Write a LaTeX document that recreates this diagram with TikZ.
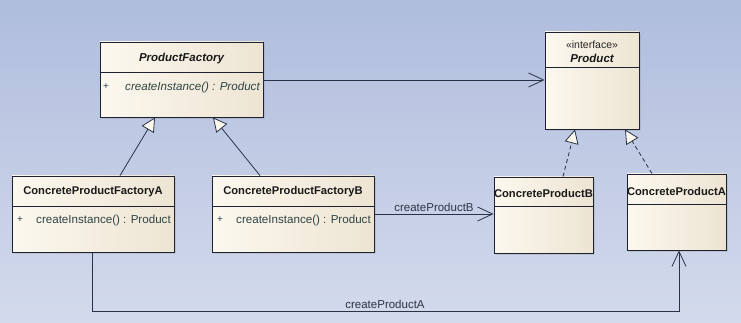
\documentclass[tikz,border=0pt]{standalone}
\usepackage{fontspec}
\setmainfont{Liberation Sans}
\usetikzlibrary{arrows.meta,shadows}

\definecolor{bgtop}{HTML}{AFBDDD}
\definecolor{bgbot}{HTML}{D3DAEC}
\definecolor{boxl}{HTML}{FCF8EE}
\definecolor{boxr}{HTML}{EDE4D3}
\definecolor{edge}{HTML}{1E2230}
\definecolor{wire}{HTML}{2A3248}
\definecolor{optext}{HTML}{2F4444}
\definecolor{lbltext}{HTML}{2E3444}

\tikzset{
  classbox/.style={draw=edge, line width=0.9pt, left color=boxl, right color=boxr,
    inner sep=0pt, drop shadow={opacity=0.22, shadow xshift=2pt, shadow yshift=-2pt}},
  divider/.style={draw=edge, line width=0.8pt},
  classname/.style={font=\fontsize{11.2}{13}\selectfont\bfseries, text=black!90, inner sep=0pt},
  abstractname/.style={font=\fontsize{11.5}{13}\selectfont\bfseries\itshape, text=black!90, inner sep=0pt},
  stereo/.style={font=\fontsize{10.5}{12}\selectfont, text=black!85, inner sep=0pt},
  member/.style={font=\fontsize{11.6}{13}\selectfont, text=optext, inner sep=0pt, anchor=west},
  vis/.style={font=\fontsize{10}{12}\selectfont, text=optext, inner sep=0pt},
  assoc/.style={draw=wire, line width=0.8pt, -{Straight Barb[length=15pt,width=14pt,line width=0.8pt]}},
  inherit/.style={draw=wire, line width=0.8pt, -{Triangle[open,length=14pt,width=14pt,fill=boxl,line width=0.8pt]}},
  realize/.style={inherit, dash pattern=on 4pt off 3pt},
  wirelabel/.style={font=\fontsize{11.5}{13}\selectfont, text=lbltext, inner sep=1pt},
}

\begin{document}
\begin{tikzpicture}[x=1pt, y=-1pt]
  % canvas
  \useasboundingbox (0,0) rectangle (741,323);
  \shade[top color=bgtop, bottom color=bgbot] (0,0) rectangle (741,323);

  % ProductFactory (abstract)
  \node[classbox, minimum width=163pt, minimum height=75pt] (pf) at (181.5,79.5) {};
  \draw[divider] (100,72) -- (263,72);
  \node[abstractname] (pfname) at (181.5,59) {ProductFactory};
  \node[vis] (pfvis) at (106,87) {+};
  \node[member, font=\fontsize{11.6}{13}\selectfont\itshape] (pfop) at (125,87) {createInstance() : Product};

  % Product (interface)
  \node[classbox, minimum width=94pt, minimum height=97pt] (prod) at (592,80.5) {};
  \draw[divider] (545,67) -- (639,67);
  \node[stereo] (prodst) at (592,45) {«interface»};
  \node[abstractname] (prodname) at (592,58.5) {Product};

  % ConcreteProductFactoryA
  \node[classbox, minimum width=162pt, minimum height=76pt] (cfa) at (93,214) {};
  \draw[divider] (12,206) -- (174,206);
  \node[classname] (cfaname) at (93,192) {ConcreteProductFactoryA};
  \node[vis] (cfavis) at (20,220) {+};
  \node[member] (cfaop) at (36,220) {createInstance() : Product};

  % ConcreteProductFactoryB
  \node[classbox, minimum width=162pt, minimum height=76pt] (cfb) at (293,214) {};
  \draw[divider] (212,206) -- (374,206);
  \node[classname] (cfbname) at (293,192) {ConcreteProductFactoryB};
  \node[vis] (cfbvis) at (220,220) {+};
  \node[member] (cfbop) at (236,220) {createInstance() : Product};

  % ConcreteProductB
  \node[classbox, minimum width=99pt, minimum height=76pt] (cpb) at (543.5,215) {};
  \draw[divider] (494,206) -- (593,206);
  \node[classname] (cpbname) at (543.5,193) {ConcreteProductB};

  % ConcreteProductA
  \node[classbox, minimum width=99pt, minimum height=76pt] (cpa) at (676.5,212) {};
  \draw[divider] (627,204) -- (726,204);
  \node[classname] (cpaname) at (676.5,191) {ConcreteProductA};

  % association ProductFactory -> Product
  \draw[assoc] (pf.east |- 0,80) -- (prod.west |- 0,80);

  % generalizations to ProductFactory
  \draw[inherit] (cfa.north -| 120,0) -- (pf.south -| 155,0);
  \draw[inherit] (cfb.north -| 260,0) -- (pf.south -| 213,0);

  % realizations of Product
  \draw[realize] (cpb.north -| 563,0) -- (prod.south -| 575,0);
  \draw[realize] (cpa.north -| 652,0) -- (prod.south -| 625,0);

  % createProductB
  \draw[assoc] (cfb.east |- 0,214) -- (cpb.west |- 0,214)
    node[wirelabel, pos=0.5, above=1pt] (lblb) {createProductB};

  % createProductA
  \coordinate (ca1) at (92,311.5);
  \coordinate (ca2) at (679,311.5);
  \draw[assoc] (cfa.south -| ca1) -- (ca1) -- (ca2) -- (cpa.south -| ca2);
  \node[wirelabel, anchor=south] (lbla) at (385,310) {createProductA};
\end{tikzpicture}
\end{document}
